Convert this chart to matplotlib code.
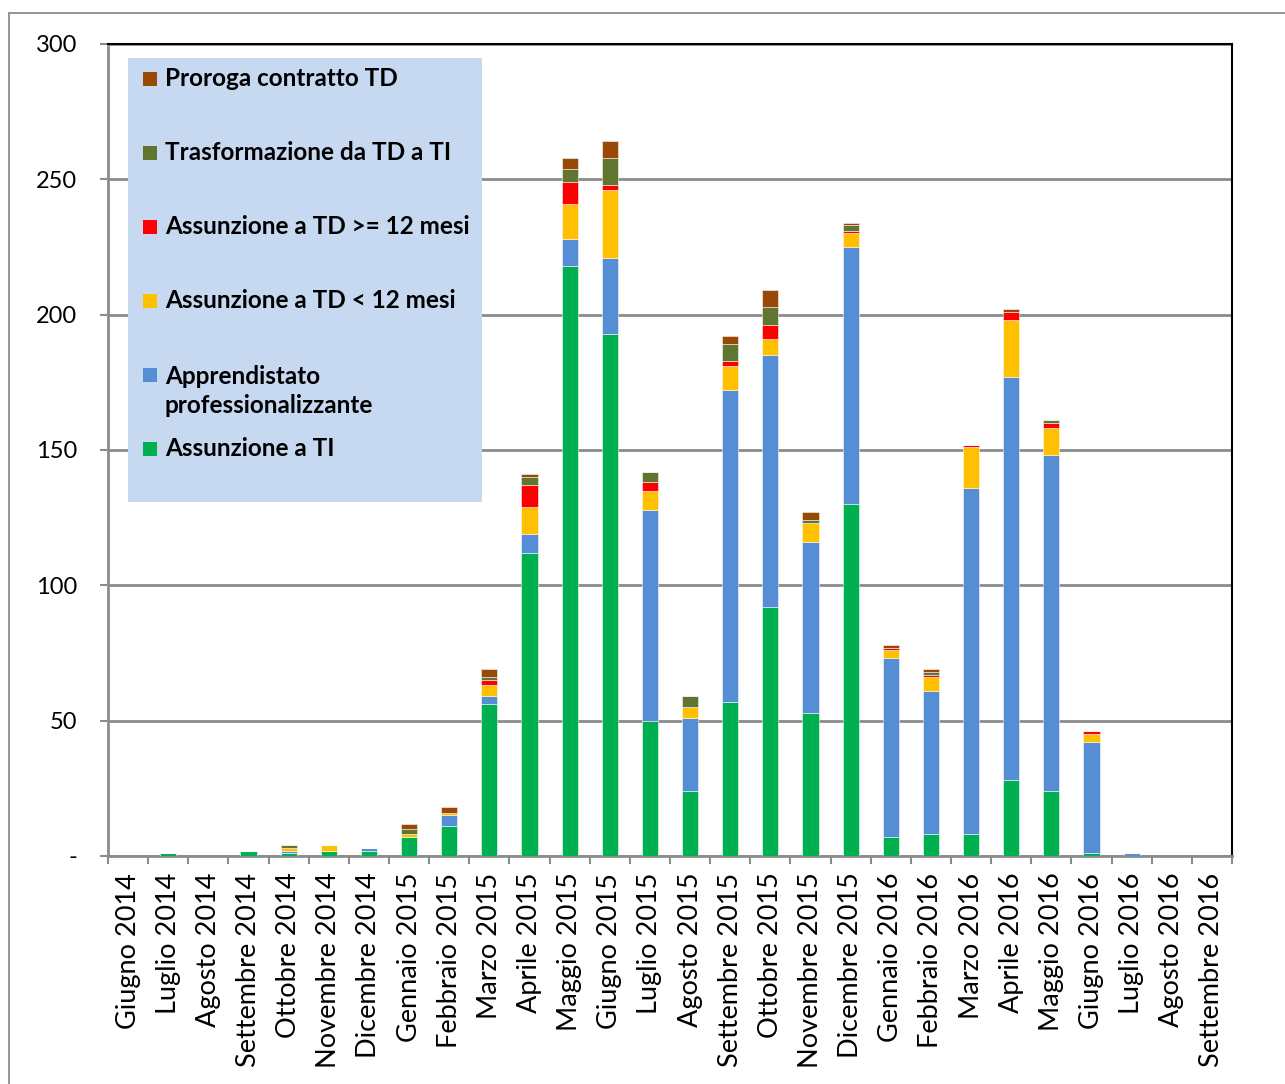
import matplotlib
matplotlib.use("Agg")
import matplotlib.pyplot as plt
from matplotlib.patches import Rectangle
import numpy as np

months = ["Giugno 2014", "Luglio 2014", "Agosto 2014", "Settembre 2014", "Ottobre 2014",
          "Novembre 2014", "Dicembre 2014", "Gennaio 2015", "Febbraio 2015", "Marzo 2015",
          "Aprile 2015", "Maggio 2015", "Giugno 2015", "Luglio 2015", "Agosto 2015",
          "Settembre 2015", "Ottobre 2015", "Novembre 2015", "Dicembre 2015", "Gennaio 2016",
          "Febbraio 2016", "Marzo 2016", "Aprile 2016", "Maggio 2016", "Giugno 2016",
          "Luglio 2016", "Agosto 2016", "Settembre 2016"]

assunzione_ti = [0, 1, 0, 2, 1, 2, 2, 7, 11, 56, 112, 218, 193, 50, 24, 57, 92, 53, 130, 7, 8, 8, 28, 24, 1, 0, 0, 0]
apprendistato = [0, 0, 0, 0, 1, 0, 1, 0, 4, 3, 7, 10, 28, 78, 27, 115, 93, 63, 95, 66, 53, 128, 149, 124, 41, 1, 0, 0]
td_lt12 = [0, 0, 0, 0, 1, 2, 0, 1, 1, 4, 10, 13, 25, 7, 4, 9, 6, 7, 5, 3, 5, 15, 21, 10, 3, 0, 0, 0]
td_ge12 = [0, 0, 0, 0, 0, 0, 0, 0, 0, 2, 8, 8, 2, 3, 0, 2, 5, 0, 1, 1, 1, 1, 3, 2, 1, 0, 0, 0]
trasformazione = [0, 0, 0, 0, 1, 0, 0, 2, 0, 1, 3, 5, 10, 4, 4, 6, 7, 1, 2, 0, 1, 0, 0, 1, 0, 0, 0, 0]
proroga = [0, 0, 0, 0, 0, 0, 0, 2, 2, 3, 1, 4, 6, 0, 0, 3, 6, 3, 1, 1, 1, 0, 1, 0, 0, 0, 0, 0]

series_names = ["Assunzione a TI", "Apprendistato\nprofessionalizzante", "Assunzione a TD < 12 mesi",
                "Assunzione a TD >= 12 mesi", "Trasformazione da TD a TI", "Proroga contratto TD"]
series = [assunzione_ti, apprendistato, td_lt12, td_ge12, trasformazione, proroga]
colors = ["#00B050", "#558ED5", "#FFC000", "#FF0000", "#5F7530", "#984807"]

y_ticks = [0, 50, 100, 150, 200, 250, 300]
y_tick_labels = ["-", "50", "100", "150", "200", "250", "300"]

W, H = 1285, 1084
plt.rcParams['font.family'] = ['Lato', 'DejaVu Sans']
fig = plt.figure(figsize=(W / 100, H / 100), dpi=100)
left, right, top, bottom = 108, 1232, 44, 856
ax = fig.add_axes([left / W, 1 - bottom / H, (right - left) / W, (bottom - top) / H])

# outer border
fig.patches.append(Rectangle((9 / W, -0.02), 1.05, 1 - 13 / H + 0.02, transform=fig.transFigure,
                             fill=False, edgecolor="#8C8C8C", linewidth=1.3, zorder=-5))

x = np.arange(len(months))
bottoms = np.zeros(len(months))
for vals, c in zip(series, colors):
    v = np.array(vals, dtype=float)
    ax.bar(x, v, width=0.4, bottom=bottoms, color=c, edgecolor=(1, 1, 1, 0.6), linewidth=0.6, zorder=3)
    bottoms += v

ax.set_xlim(-0.5, len(months) - 0.5)
ax.set_ylim(0, 300)
ax.set_yticks(y_ticks)
ax.set_yticklabels(y_tick_labels, fontsize=17)
ax.yaxis.grid(True, color="#8C8C8C", linewidth=2, zorder=0)
ax.tick_params(axis='y', length=6, width=1.5, color="#8C8C8C", pad=16)

ax.set_xticks(x)
ax.set_xticklabels(months, rotation=90, fontsize=19.5, va='top')
ax.set_xticks(np.arange(-0.5, len(months), 1), minor=True)
ax.tick_params(axis='x', which='major', length=0, pad=12)
ax.tick_params(axis='x', which='minor', length=6, width=1.5, color="#8C8C8C")

for s in ['left', 'bottom']:
    ax.spines[s].set_color("#8C8C8C")
    ax.spines[s].set_linewidth(2)
for s in ['top', 'right']:
    ax.spines[s].set_color("#000000")
    ax.spines[s].set_linewidth(1.5)
ax.set_axisbelow(True)

# legend box (manual, matching the Excel layout)
def fx(px):
    return px / W

def fy(py):
    return 1 - py / H

fig.patches.append(Rectangle((fx(128), fy(502)), fx(482) - fx(128), fy(58) - fy(502),
                             transform=fig.transFigure, facecolor="#C6D9F1", edgecolor="none", zorder=5))
entry_y = [449, 391, 301, 227, 153, 79]
square_y = [449, 375, 301, 227, 153, 79]
for name, c, ty, sy in zip(series_names, colors, entry_y, square_y):
    fig.patches.append(Rectangle((fx(143), fy(sy + 7)), 14 / W, 14 / H, transform=fig.transFigure,
                                 facecolor=c, edgecolor="none", zorder=6))
    fig.text(fx(165), fy(ty), name, fontsize=17.5, fontweight='bold', va='center', ha='left',
             linespacing=1.3, zorder=7)

fig.savefig("out.png", dpi=100)
